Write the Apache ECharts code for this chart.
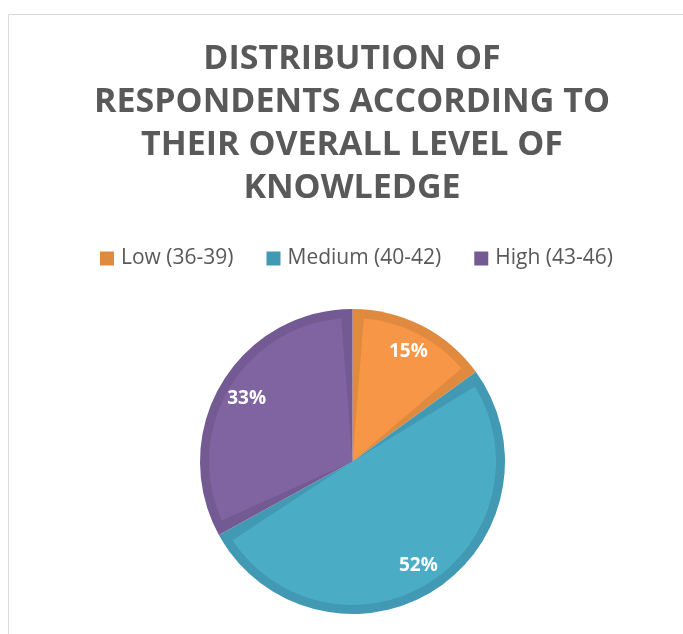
<!DOCTYPE html>
<html>
<head>
<meta charset="utf-8">
<script src="https://cdn.jsdelivr.net/npm/echarts@6/dist/echarts.min.js"></script>
<style>
  html, body { margin: 0; padding: 0; background: #fff; }
  #chart { width: 683px; height: 634px; }
</style>
</head>
<body>
<div id="chart"></div>
<script>
// data
var categories = ["Low (36-39)", "Medium (40-42)", "High (43-46)"];
var percents = [15, 52, 33];
var fillColors = ["#F79646", "#4BACC6", "#8064A2"];
var edgeColors = ["#E08A40", "#4299B3", "#735A92"];

(function() {
  var myChart = echarts.init(document.getElementById("chart"));

  function items(colors) {
    return categories.map(function(name, i) {
      return { name: name, value: percents[i], itemStyle: { color: colors[i] } };
    });
  }

  var font = "'Open Sans', 'Noto Sans', sans-serif";

  var option = {
    animation: false,
    title: {
      text: "DISTRIBUTION OF\nRESPONDENTS ACCORDING TO\nTHEIR OVERALL LEVEL OF\nKNOWLEDGE",
      left: 352,
      textAlign: "center",
      top: 38,
      padding: 0,
      textStyle: {
        fontFamily: font,
        fontSize: 34,
        fontWeight: "bold",
        color: "#595959",
        lineHeight: 43
      }
    },
    legend: {
      data: categories,
      left: 100,
      top: 248,
      padding: 0,
      icon: "rect",
      itemWidth: 14,
      itemHeight: 14,
      itemGap: 33,
      textStyle: { fontFamily: font, fontSize: 21, color: "#595959", padding: [0, 0, 0, 2] }
    },
    graphic: [
      {
        type: "rect",
        silent: true,
        shape: { x: 8.5, y: 14.5, width: 800, height: 800 },
        style: { fill: "none", stroke: "#d9d9d9", lineWidth: 1 }
      }
    ],
    series: [
      // darker edge colour, full size
      {
        name: "edge",
        type: "pie",
        silent: true,
        center: [352.5, 461.5],
        radius: [0, 152.5],
        startAngle: 90,
        label: { show: false },
        labelLine: { show: false },
        data: items(edgeColors)
      },
      // lighter fill, inset
      {
        name: "fill",
        type: "pie",
        silent: true,
        center: [352.5, 461.5],
        radius: [0, 143.5],
        startAngle: 90,
        padAngle: 9,
        label: { show: false },
        labelLine: { show: false },
        data: items(fillColors)
      },
      // percent labels
      {
        name: "labels",
        type: "pie",
        silent: true,
        center: [352.5, 461.5],
        radius: [90, 150],
        startAngle: 90,
        itemStyle: { color: "rgba(0,0,0,0)" },
        label: {
          show: true,
          position: "inside",
          formatter: "{c}%",
          fontFamily: font,
          fontSize: 19,
          fontWeight: "bold",
          color: "#ffffff"
        },
        labelLine: { show: false },
        data: categories.map(function(name, i) {
          return { name: name, value: percents[i] };
        })
      }
    ]
  };

  myChart.setOption(option);
})();
</script>
</body>
</html>
